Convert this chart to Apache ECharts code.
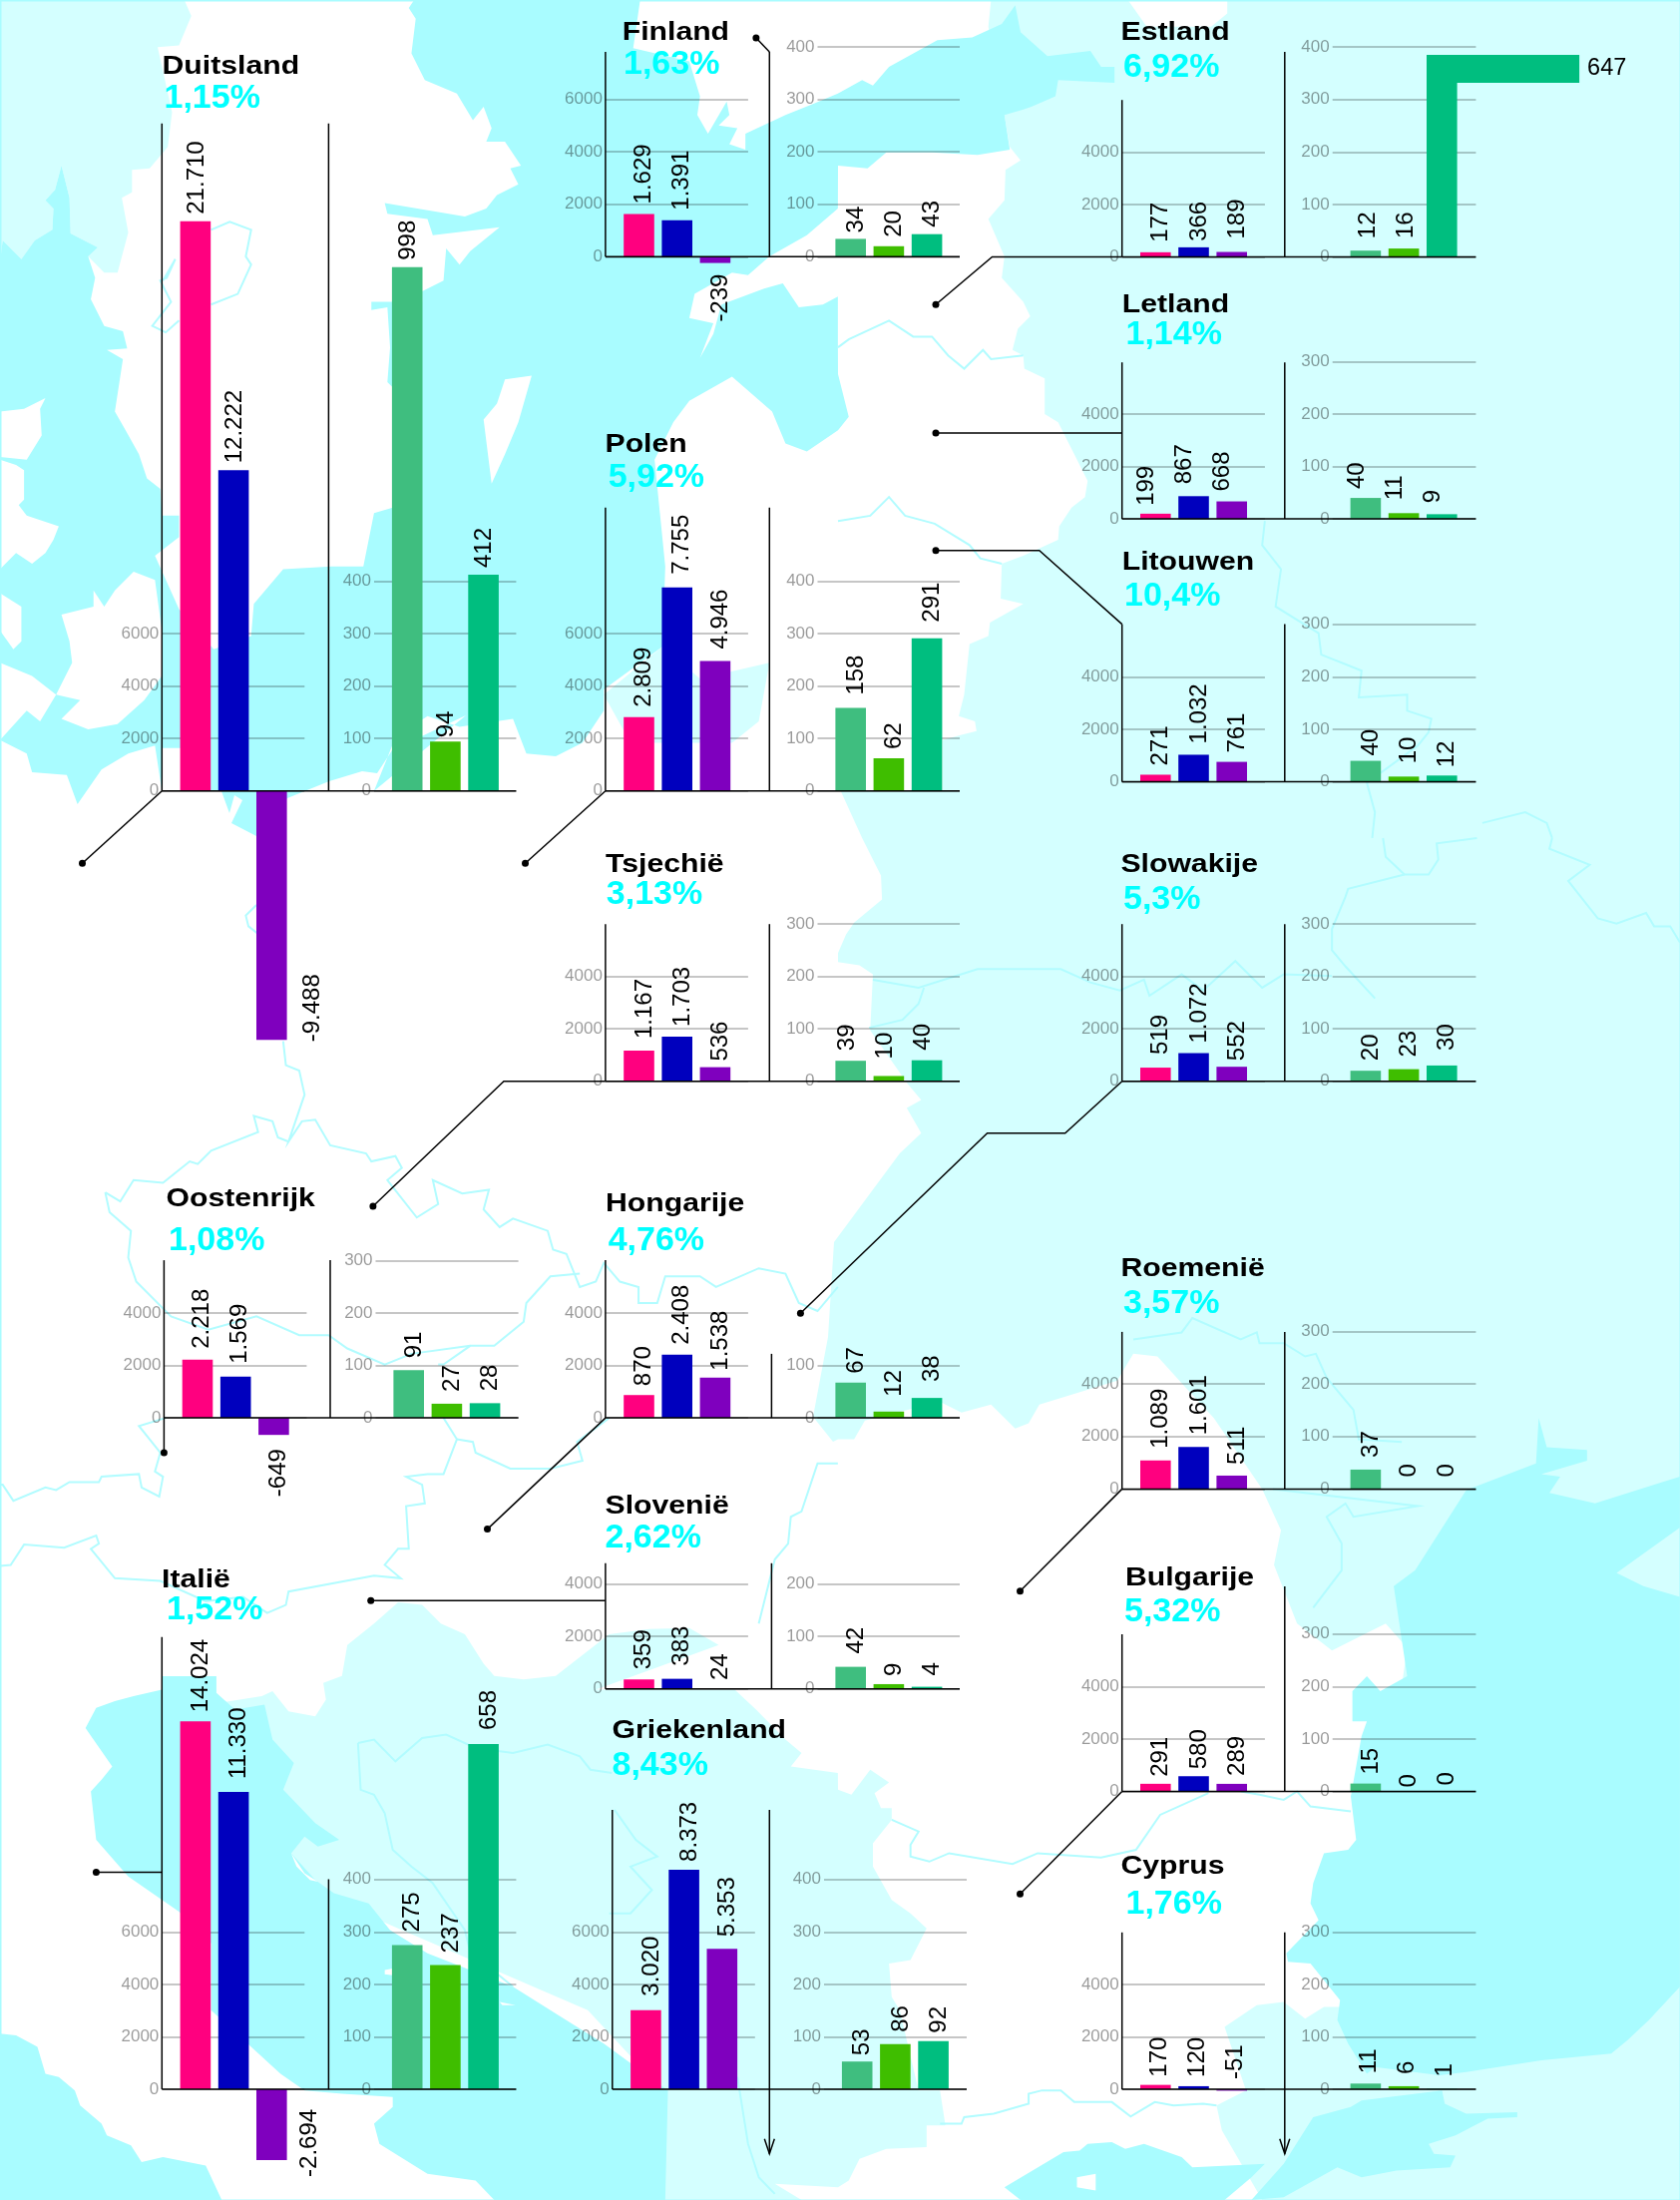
<!DOCTYPE html>
<html><head><meta charset="utf-8">
<style>html,body{margin:0;padding:0;background:#fff}#c{width:1684px;height:2205px}</style>
<script src="https://cdn.jsdelivr.net/npm/echarts@6/dist/echarts.min.js"></script>
</head><body><div id="c"></div>
<script>
// ---------- DATA ----------
const countries = ['Duitsland','Finland','Estland','Letland','Polen','Litouwen','Tsjechië','Slowakije','Oostenrijk','Hongarije','Roemenië','Slovenië','Italië','Griekenland','Bulgarije','Cyprus'];
const shares = ['1,15%','1,63%','6,92%','1,14%','5,92%','10,4%','3,13%','5,3%','1,08%','4,76%','3,57%','2,62%','1,52%','8,43%','5,32%','1,76%'];
const pinkValues   = [21710,1629,177,199,2809,271,1167,519,2218,870,1089,359,14024,3020,291,170];
const blueValues   = [12222,1391,366,867,7755,1032,1703,1072,1569,2408,1601,383,11330,8373,580,120];
const purpleValues = [-9488,-239,189,668,4946,761,536,552,-649,1538,511,24,-2694,5353,289,-51];
const tealValues   = [998,34,12,40,158,40,39,20,91,67,37,42,275,53,15,11];
const limeValues   = [94,20,16,11,62,10,10,23,27,12,0,9,237,86,0,6];
const greenValues  = [412,43,647,9,291,12,40,30,28,38,0,4,658,92,0,1];
const leftTickMax  = [6000,6000,4000,4000,6000,4000,4000,4000,4000,4000,4000,4000,6000,6000,4000,4000];
const rightTickMax = [400,400,400,300,400,300,300,300,300,100,300,200,400,400,300,300];

// ---------- STYLE / LAYOUT ----------
const leftColors=['#FF007F','#0000BE','#7F00BE'], rightColors=['#3FBE7F','#3FBE00','#00BE7F'];
const SEA='#A9FCFF', LIGHT='#D4FFFF', BORDER='#B2FCFF', FONT='"Liberation Sans",Arial,sans-serif';
const KL=52.6/2000, KR=52.6/100, STEP=38.2, BARW=30.6, TITLE_DY=2.5;
const colA={ax:162.3,bx:329.4,le:305.3,rs:375,re:517.4}, colB={ax:606.9,bx:771.3,le:749.9,rs:819.5,re:962}, colC={ax:1124.7,bx:1287.8,le:1267.9,rs:1335.7,re:1479.4};
const layouts=[
 {...colA,zero:792.7,top:123.7,rtop:123.7,tx:162.5,ty:64.5,px:164.5,py:96,dl:1,dr:1,line:[[82.5,865.2],[162.3,792.7]]},
 {...colB,zero:257.3,top:52,rtop:52,tx:623.7,ty:30.9,px:625,py:62.4,dl:5,dr:5.5,line:[[757.9,38],[771.3,52]]},
 {...colC,zero:257.5,top:100.2,rtop:52,tx:1123.6,ty:30.9,px:1126,py:65.2,dl:5.5,dr:2,line:[[938,305.3],[994.5,257.5],[1124.7,257.5]]},
 {...colC,zero:520.1,top:363.2,rtop:363.2,tx:1124.7,ty:303,px:1128.5,py:333.2,dl:-9,dr:-9,line:[[938,433.9],[1124.7,433.9]]},
 {...colB,zero:792.7,top:508.8,rtop:508.8,tx:606.5,ty:443.3,px:609.7,py:476.3,dl:5,dr:5.5,line:[[526.5,865.2],[606.9,792.7]]},
 {...colC,zero:783.6,top:625.6,rtop:625.6,tx:1124.7,ty:561.2,px:1127,py:595.6,dl:5.5,dr:5.5,line:[[938,551.7],[1041.8,551.7],[1124.7,625.6]]},
 {...colB,zero:1083.7,top:926.2,rtop:926.2,tx:607,ty:864.3,px:607.8,py:894.4,dl:5.5,dr:-3.8,line:[[373.9,1209],[505,1083.7],[606.9,1083.7]]},
 {...colC,zero:1083.7,top:926.2,rtop:926.2,tx:1123.4,ty:864.3,px:1126,py:899.3,dl:5.5,dr:5.5,line:[[802.4,1316.2],[989.6,1135.7],[1067.7,1135.7],[1124.7,1083.7]]},
 {ax:164.4,bx:331,le:307.4,rs:376.5,re:519.6,zero:1421.1,top:1263.1,rtop:1263.1,tx:166.5,ty:1199.4,px:169,py:1241.6,dl:4.5,dr:5.5,line:[[164.4,1456],[164.4,1421.1]]},
 {...colB,bx:773.4,zero:1421.1,top:1263.1,rtop:1356.9,tx:607,ty:1204.3,px:609.7,py:1241.6,dl:5,dr:5.5,line:[[488.5,1532.6],[606.9,1421.1]]},
 {...colC,zero:1492.4,top:1334.9,rtop:1334.9,tx:1123.4,ty:1269.1,px:1126,py:1304.4,dl:5.5,dr:5.5,line:[[1022.5,1594.7],[1124.7,1492.4]]},
 {...colB,bx:773.4,zero:1692.7,top:1566.8,rtop:1566.8,tx:606.5,ty:1507.3,px:606.5,py:1539,dl:5,dr:5.5,line:[[371.7,1604.3],[606.9,1604.3]]},
 {...colA,zero:2094.1,top:1640.8,rtop:1883.5,tx:162,ty:1581.3,px:167,py:1610.9,dl:5.5,dr:5.5,line:[[96.4,1876.5],[162.3,1876.5]]},
 {ax:613.8,bx:771.3,le:756.8,rs:826,re:969,zero:2094.1,top:1813.9,rtop:1813.9,tx:613.5,ty:1732,px:613.5,py:1766.7,dl:5.5,dr:5.5,arrow:2158.7},
 {...colC,zero:1795.5,top:1638,rtop:1589.9,tx:1127.9,ty:1579.2,px:1127,py:1613,dl:5.5,dr:5.5,line:[[1022.5,1898.3],[1124.7,1795.5]]},
 {...colC,zero:2094.1,top:1936.8,rtop:1936.8,tx:1123.4,ty:1868.9,px:1128.5,py:1906.2,dl:4,dr:3.5,arrow:2158.7}
];
// gap between bar end and its label, one row per country
const labelGapsLeft=[[7,7,0],[10,10,0],[10,6,13],[8,12,10],[10,13,12],[9,11,9],[12,10,6],[13,10,6],[11,13,0],[9,10,7],[12,12,11],[10,13,8],[9,13,0],[14,8,12],[7,7,8],[8,9,10]];
const labelGapsRight=[[7,4,7],[6,9,7],[12,10,0],[9,13,11],[13,9,16],[5,13,8],[10,17,10],[10,12,15],[12,12,12],[9,15,16],[12,12,12],[13,8,11],[13,12,14],[6,12,8],[9,4,6],[10,12,12]];
const negLabels={'0':{align:'left',dist:2,dx:41},'1':{align:'right',dist:11,dx:5},'8':{align:'right',dist:14,dx:5},'12':{align:'left',dist:17,dx:38}};

// ---------- BACKGROUND MAP (decorative outlines) ----------
const ZT={7:[0,0,1.867,1.867],8:[840,0,1.858,1.867],9:[0,840,1.867,1.867],10:[840,840,1.858,1.867],11:[0,1680,1.867,2.987],12:[840,1680,1.858,2.987]};
function P(){
 const out=[];
 for(let a=0;a<arguments.length;a+=2){const n=arguments[a],l=arguments[a+1],t=ZT[n]||[0,0,1,1];
  for(let i=0;i<l.length;i+=2) out.push([t[0]+l[i]/t[2],t[1]+l[i+1]/t[3]]);}
 return out;
}
const lightShapes=[
 P(7,[0,0,345,0,358,30,335,85,295,88,322,210,314,275,280,315,247,318,247,360,228,370,240,435,220,510,195,510,165,480,183,463,132,437,130,370,115,310,103,355,85,375,100,390,98,430,65,450,40,485,5,450,0,490]),
 P(8,[285,0],0,[1684,0,1684,2205],12,[790,1568,715,1360,705,1285,760,1240,720,1050,780,985,830,975,870,1025,905,990,950,990,1000,600],10,[1060,1515,1020,1470,920,1520,855,1470,812,1360,825,1295,790,1218,700,1085,640,1020,595,970,550,965,520,1015,375,1060,355,1095,330,1105,285,1060,230,1075,190,1055,50,1090,30,1125,0,1125],0,[835,1445,815,1420,830,1340,836,1245],10,[115,590,155,552,128,505,155,490,130,460,60,360,65,255,40,238,0,232,0,215,15,180,30,158,82,115,80,70,45,0],8,[5,1480,195,1480,195,1385,230,1375,258,1368,255,1350,225,1340,235,1300,245,1205,280,1190,283,1165,345,1130,303,1120,305,1055,345,1040,410,1010,412,985,435,950,460,930,465,900,440,850,410,790,385,775,385,708,347,690,345,665,325,655,335,615,358,592,345,565,305,520,310,480,280,410,310,375,312,318,340,300,320,275,310,215,280,50]),
 P(9,[640,1568,650,1510,700,1470,745,1430,790,1435,825,1470,870,1490,905,1545,925,1568],11,[980,10],9,[1040,1568,1140,1490,1215,1480,1290,1478,1345,1510],11,[1115,40,1375,40,1415,100,1470,190,1500,230,1480,270,1568,290],12,[0,340,25,355,60,280,95,318,68,350,80,395,100,395,100,430,65,500,65,570,100,670,135,710,165,755,135,850,95,860,100,960,115,1000,150,1240,190,1240,200,1345,165,1345,165,1410,90,1415,40,1445,20,1510,0,1530],11,[1450,1520,1500,1568,1240,1568,1240,1240,1100,1000,520,600,330,100,490,60,510,45,540,105,590,120,610,70,605,20]),
 P(7,[1130,1300,1240,1210,1310,1270,1440,1240,1420,1350,1370,1390,1180,1390])
];
const seaShapes=[
 P(7,[0,490,5,450,40,485,65,450,98,430,100,390,85,375,103,355,115,310,130,370,132,437,183,463,165,480,178,520,170,560,195,610,230,620,238,652,200,655,230,672,215,770,235,805,260,850,275,895,300,915,303,965,335,965,335,1005,290,1040,335,1140,400,1215,470,1190,475,1130,530,1065,620,1060,680,1060,700,960,735,950,780,900,790,840,735,725,725,715,730,650,725,575,695,580,695,565,790,565,790,545,830,525,835,465,860,495,880,470,935,425,810,440,800,410,725,400,720,380,870,405,910,390,930,365,970,345,955,315,975,310,945,265,910,265,920,240,905,200,885,225,855,175,795,150,770,100,778,35,765,15,775,0,1198,0,1185,90,1290,115,1310,180,1305,215,1325,250,1360,190,1365,215,1345,235,1380,240,1365,270,1395,280,1395,250,1470,215,1520,195,1568,175],8,[45,150,65,160,95,125,185,75,250,70,305,45,330,10,340,60,390,105,470,95,490,125,515,125,515,155,410,150,405,180,360,200,345,205,310,215,320,280,260,290,175,285,90,285,55,315,0,310],7,[1568,390,1510,440,1440,480,1400,515,1370,510,1300,550,1290,595,1335,605,1310,670,1335,625,1350,570,1430,540,1465,530,1495,575,1540,570,1568,555,1568,640],8,[0,700,20,780,0,805],7,[1510,845,1470,830,1445,770,1370,705,1290,750,1260,790,1225,860,1235,960,1245,1060,1240,1210,1130,1290,1130,1330,1090,1390,1040,1415,985,1410,960,1345,860,1360,800,1340,740,1380,700,1480],0,[467,717,393,752,378,775,363,773,330,783,288,800,257,838,232,825,243,802,235,797,230,815,222,793],7,[303,1480,290,1395,240,1410,190,1440,145,1505,125,1450,60,1445,50,1410,0,1385]),
 P(11,[160,155,180,95,215,75,250,60,303,40,303,0,405,0,405,50,440,100,495,85,510,190,550,260,530,340,590,440,635,490,595,510,570,480,545,530,590,610,625,650,690,680,730,760,800,830,960,930,1050,1020,1130,1100,1250,1240,1245,1568,925,1568,890,1510,800,1490,710,1400,700,1340,735,1290,735,1260,640,1250,570,1240,525,1190,470,1110,395,1000,395,800,335,705,240,600,180,490,170,345,190,310,210,270]),
 P(11,[0,1070,30,1075,70,1110,85,1190,110,1200,140,1240,150,1285,190,1340,200,1375,245,1405,265,1455,305,1440,385,1465,415,1568,0,1568]),
 P(12,[310,1530,420,1425,450,1420,465,1400,510,1395,535,1415,570,1400,640,1440,660,1470,795,1460,770,1500,720,1568,340,1568]),
 P(12,[770,1568,830,1460,885,1320,955,1290,975,1270,1125,1240,1130,1280,1170,1310,1265,1305,1265,1320,1210,1325,1150,1375,1100,1400,1110,1430,1150,1435,1140,1470,1040,1480,975,1500,930,1470,830,1560]),
 P(10,[1060,1568,1035,1400,1075,1370,1170,1220,1300,1170,1305,1085,1320,1140,1395,1145,1395,1165,1310,1190,1345,1195,1325,1225,1410,1245,1535,1205,1568,1195],12,[1568,930,1510,1030,1470,1090,1440,1130,1310,1150,1170,1185,1120,1195,1000,1170,985,1190,950,1100,930,1030,935,970,880,860,838,855,835,830,895,730,880,680,885,620,905,530,950,520,965,490,955,360,975,180,985,135,958,135,958,45,985,0,1010,45,1060,0])
];
const whiteShapes=[
 P(7,[995,703,945,710,930,755,905,785,920,905,945,850,970,790]),
 P(7,[0,770,45,765,85,745,75,765,78,815,50,860,0,855]),
 P(7,[0,860,30,870,45,880,45,935,35,945,50,965,110,985,100,1010,85,1035,60,1055,30,1035,0,1065]),
 P(7,[115,1150,130,1200,135,1240,105,1300,150,1310,115,1345,165,1365,220,1355,270,1310,303,1265,303,1180,290,1085,250,1070,215,1105,195,1135,175,1105,175,1135]),
 P(7,[0,1110,40,1135,40,1200,25,1215,0,1180]),
 P(7,[0,1240,60,1265,105,1300,75,1350,50,1330,0,1385]),
 P(7,[303,1400,340,1400,340,1480,303,1480]),
 P(8,[540,0,575,50,695,50,725,25,725,0]),
 P(11,[545,530,570,590,595,615,580,610,555,570]),
 P(11,[720,880,735,875,735,895,720,892]),
 P(11,[935,975,965,985,940,985]),
 P(12,[445,1500,480,1490,480,1540,445,1530])
];
const lightOnSea=[P(10,[1450,1375,1568,1290,1568,1420,1500,1400])];
const borderLines=[
 P(9,[480,125,460,145,465,165,490,185]),
 P(9,[530,380,535,425,560,435,570,480,540,568,565,530,590,527,618,575,685,590,695,605,740,595,752,617,725,640,780,710,820,685,810,640,865,665,915,658,905,695,935,728,960,712,1025,735,1035,770,1060,778,1085,840,1115,830,1130,795,1160,830,1195,840,1195,870,1230,870,1245,820,1310,820,1340,840,1420,805,1470,815,1495,870,1530,885,1568,840]),
 P(9,[1085,815,1030,820,985,870,980,905,925,950,880,950,830,985,820,985]),
 P(9,[197,663,205,700,245,735,240,785,255,830,305,880,320,895,390,920,480,895,560,930,615,930,650,955,720,985,770,965,880,950]),
 P(9,[197,663,225,680,250,640,305,645,355,605,370,610,395,585,483,550,475,520,510,530,520,560,540,568]),
 P(9,[310,1085,260,1100,300,1150,290,1185,305,1195,298,1232,265,1215,260,1190,190,1195,185,1205,130,1205,105,1220,85,1215,25,1240,5,1210,0,1210]),
 P(9,[830,1085,855,1125,830,1190,800,1190,760,1195,790,1210,795,1245,760,1250,765,1330,745,1330,720,1360,750,1385,700,1380,540,1410,535,1435,500,1450,455,1420,385,1428,300,1390,215,1385,170,1330,185,1320,180,1305,120,1328,45,1322,20,1360,0,1362]),
 P(9,[855,1125,885,1130,890,1150,955,1180,1030,1180,1090,1165,1080,1130,1140,1085]),
 P(9,[1568,1170,1530,1170,1500,1260,1480,1270,1475,1320,1450,1350,1420,1470]),
 P(8,[0,650,20,635,95,600,140,630,175,630,205,665,235,690,270,655,285,672,345,665]),
 P(8,[0,975,60,965,95,930,125,965,180,980,245,1020,265,1045,305,1055]),
 P(8,[795,975,790,1020,825,1065,815,1135,895,1185,900,1225,975,1255,970,1305,1060,1300,1060,1330,1105,1345,1100,1370,1080,1395,985,1465,1000,1520,995,1568]),
 P(8,[1200,1540,1280,1520,1320,1540,1330,1568]),
 P(10,[1015,0,1020,35,1055,68,1100,68,1118,40,1115,10,1190,0]),
 P(10,[1055,68,950,95,945,110,920,170,920,210,945,240,1000,300]),
 P(10,[1330,0,1325,20,1400,50,1360,80,1415,150,1450,160,1505,140,1520,165,1550,165,1568,195]),
 P(10,[65,265,150,280,260,245,350,245,415,245,470,270,525,285,570,265,580,295,640,255,680,285,740,230,790,280,830,255,920,258]),
 P(10,[160,280,150,310,120,340,58,355]),
 P(10,[550,938,640,925,660,898,750,938,780,925,785,945,830,945,870,970,890,965,910,1010,960,1070,970,1125,1050,1130]),
 P(10,[810,1218,1080,1250,960,1270,945,1245,910,1270,938,1320,938,1370,885,1440]),
 P(12,[100,430,150,465,135,505,135,540,170,555,207,530,325,562,372,530,490,543,555,520,600,415,690,350]),
 P(12,[750,345,785,355,830,370,855,345,880,390,955,405]),
 P(12,[190,1340,230,1340,235,1320,290,1310,355,1280,355,1250,380,1240,415,1240,440,1275,510,1275,545,1318,590,1275,625,1285,680,1280,705,1285]),
 P(7,[395,430,430,415,470,430,460,480,470,495,445,550,395,570]),
 P(7,[305,525,328,485,312,520,300,525,320,565,285,610,310,622,335,600]),
 P(11,[670,200,700,190,740,255,790,185,835,175,890,215,960,230,1025,205,1085,240,1105,280,1145,290]),
 P(11,[670,200,675,340,700,355,720,410,735,520,770,570,810,620,840,690,870,760,880,825,960,930]),
 P(11,[1150,400,1190,490,1230,540,1180,570,1220,640,1180,710,1140,710]),
 P(11,[1380,1200,1390,1300,1400,1400,1420,1500,1450,1550])
];

// ---------- CHART ----------
const fmt=v=>String(v).replace(/\B(?=(\d{3})+(?!\d))/g,'.');
const grid=[],xAxis=[],yAxis=[],series=[],graphic=[];
const addPoly=(pts,fill,z)=>graphic.push({type:'polygon',z,silent:true,shape:{points:pts},style:{fill}});
lightShapes.forEach(s=>addPoly(s,LIGHT,-30));
seaShapes.forEach(s=>addPoly(s,SEA,-20));
whiteShapes.forEach(s=>addPoly(s,'#fff',-15));
lightOnSea.forEach(s=>addPoly(s,LIGHT,-15));
borderLines.forEach(s=>graphic.push({type:'polyline',z:-10,silent:true,shape:{points:s},style:{stroke:BORDER,lineWidth:2,fill:null}}));
graphic.push({type:'rect',z:-5,silent:true,shape:{x:0.5,y:0.5,width:1684,height:2205},style:{stroke:SEA,lineWidth:2,fill:null}});

function addPlot(idx,left,right,tickMax,interval,k,values,colors,gaps,dx,centerOffset,panel,isLeft){
 const g=grid.length, h=tickMax*k, w=right-left;
 grid.push({left,top:panel.zero-h,width:w,height:h,containLabel:false});
 const min=-centerOffset/STEP;
 xAxis.push({gridIndex:g,type:'value',min,max:min+w/STEP,show:false});
 yAxis.push({gridIndex:g,type:'value',min:0,max:tickMax,interval,
  axisLine:{show:false},axisTick:{show:false},
  splitLine:{show:true,lineStyle:{color:'rgba(0,0,0,0.3)',width:1.5}},
  axisLabel:{margin:3,fontSize:17,fontFamily:FONT,color:'rgba(0,0,0,0.4)',padding:[0,0,6,0],showMinLabel:true,showMaxLabel:true,hideOverlap:false,formatter:v=>String(v)}});
 const bent=(!isLeft&&countries[idx]==='Estland');
 const data=[],shifts=[];
 values.forEach((v,i)=>{
  if(bent&&i===2) return;
  const neg=isLeft&&negLabels[idx]&&v<0?negLabels[idx]:null;
  shifts.push(neg?neg.dx:dx);
  data.push({value:[i,v],itemStyle:{color:colors[i]},
   label:neg?{position:'bottom',align:neg.align,distance:neg.dist}
            :{position:'top',align:'left',distance:gaps[i]}});
 });
 series.push({type:'bar',xAxisIndex:g,yAxisIndex:g,barWidth:BARW,clip:false,z:3,data,
  label:{show:true,rotate:90,verticalAlign:'middle',color:'#000',fontSize:24,fontFamily:FONT,
   formatter:p=>fmt(p.value[1])},
  // the label's own axes turn with its 90 degree rotation: its dy moves it sideways on the page
  labelLayout:params=>({dy:shifts[params.dataIndex]}),
  animation:false,silent:true});
 if(bent){
  const CAP=385;
  series.push({type:'custom',xAxisIndex:g,yAxisIndex:g,z:3,silent:true,animation:false,clip:false,
   data:[[2,values[2]]],
   renderItem:(params,api)=>{
    const i=api.value(0),v=api.value(1),base=api.coord([i,0]),top=api.coord([i,CAP]);
    const run=api.size([0,v-CAP])[1],hw=BARW/2,band=28;
    const xEnd=base[0]+run;
    return {type:'group',children:[
     {type:'polygon',shape:{points:[[base[0]-hw,base[1]],[base[0]-hw,top[1]],[xEnd,top[1]],[xEnd,top[1]+band],[base[0]+hw,top[1]+band],[base[0]+hw,base[1]]]},style:{fill:colors[2]}},
     {type:'text',x:xEnd+8,y:top[1]+band/2,style:{text:fmt(v),fill:'#000',font:'23.5px '+FONT,textAlign:'left',textVerticalAlign:'middle'}}
    ]};
   }});
 }
}

const LINE={stroke:'#000',lineWidth:1.5,fill:null};
const ln=(pts,sty)=>graphic.push({type:'polyline',z:20,silent:true,shape:{points:pts},style:sty||LINE});
countries.forEach((name,i)=>{
 const p=layouts[i];
 addPlot(i,p.ax,p.le,leftTickMax[i],2000,KL,[pinkValues[i],blueValues[i],purpleValues[i]],leftColors,labelGapsLeft[i],p.dl,33.6,p,true);
 addPlot(i,p.rs,p.re,rightTickMax[i],100,KR,[tealValues[i],limeValues[i],greenValues[i]],rightColors,labelGapsRight[i],p.dr,33.2,p,false);
 ln([[p.ax,p.top],[p.ax,p.zero]]);
 const bottom=p.arrow||p.zero;
 ln([[p.bx,p.rtop],[p.bx,bottom]]);
 ln([[p.ax,p.zero],[p.re,p.zero]]);
 if(p.arrow) ln([[p.bx-5,p.arrow-15],[p.bx,p.arrow],[p.bx+5,p.arrow-15]]);
 if(p.line){
  ln(p.line);
  graphic.push({type:'circle',z:20,silent:true,shape:{cx:p.line[0][0],cy:p.line[0][1],r:3.5},style:{fill:'#000'}});
 }
 graphic.push({type:'text',z:25,silent:true,x:p.tx,y:p.ty+TITLE_DY,scaleX:1.18,style:{text:name,fill:'#000',font:'bold 25.6px '+FONT,textAlign:'left',textVerticalAlign:'middle'}});
 graphic.push({type:'text',z:25,silent:true,x:p.px,y:p.py+TITLE_DY,style:{text:shares[i],fill:'#00FFFF',font:'bold 34px '+FONT,textAlign:'left',textVerticalAlign:'middle'}});
});

const chart=echarts.init(document.getElementById('c'),null,{renderer:'canvas',width:1684,height:2205});
chart.setOption({backgroundColor:'#fff',animation:false,tooltip:{show:false},grid,xAxis,yAxis,series,graphic:{elements:graphic}});
</script></body></html>
